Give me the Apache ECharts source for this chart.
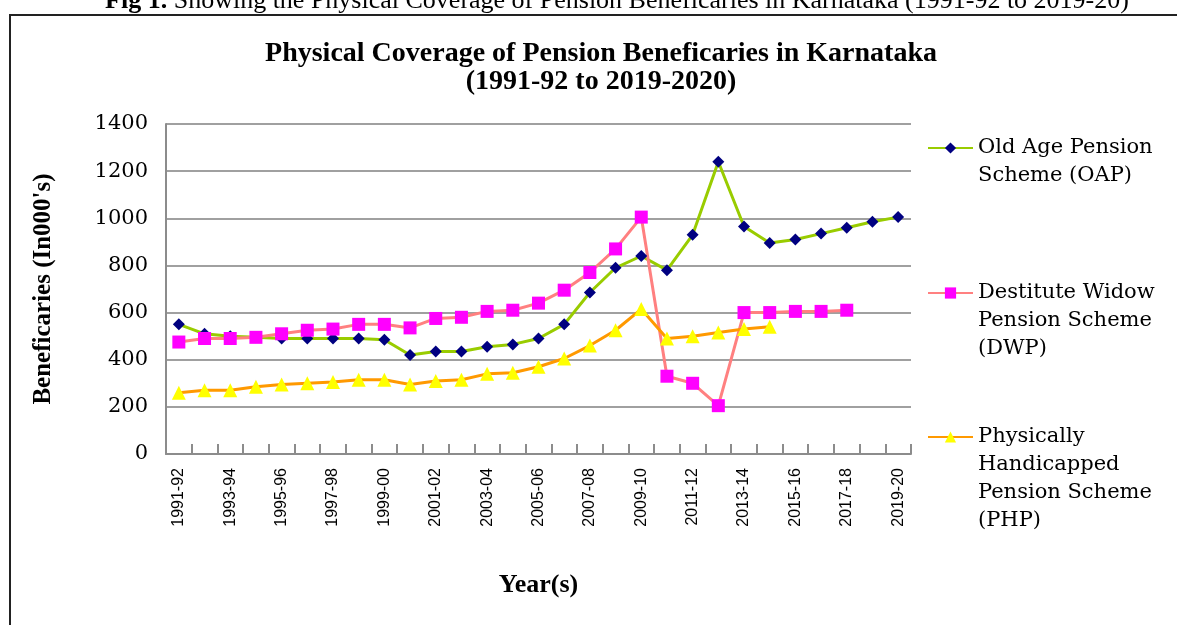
<!DOCTYPE html>
<html>
<head>
<meta charset="utf-8">
<script src="https://cdn.jsdelivr.net/npm/echarts@6/dist/echarts.min.js"></script>
<style>
html,body{margin:0;padding:0;background:#fff;}
#chart{width:1177px;height:625px;}
</style>
</head>
<body>
<div id="chart"></div>
<script>
const years = ['1991-92','1992-93','1993-94','1994-95','1995-96','1996-97','1997-98','1998-99','1999-00','2000-01',
  '2001-02','2002-03','2003-04','2004-05','2005-06','2006-07','2007-08','2008-09','2009-10','2010-11',
  '2011-12','2012-13','2013-14','2014-15','2015-16','2016-17','2017-18','2018-19','2019-20'];
const oap = [550,510,500,495,490,490,490,490,485,420,435,435,455,465,490,550,685,790,840,780,930,1240,965,895,910,935,960,985,1005];
const dwp = [475,490,490,495,510,525,530,550,550,535,575,580,605,610,640,695,770,870,1005,330,300,205,600,600,605,605,610,null,null];
const php = [260,270,270,285,295,300,305,315,315,295,310,315,340,345,370,405,460,525,615,490,500,515,530,540,null,null,null,null,null];
const yTicks = [0,200,400,600,800,1000,1200,1400];
const names = ['Old Age Pension\nScheme (OAP)','Destitute Widow\nPension Scheme\n(DWP)','Physically\nHandicapped\nPension Scheme\n(PHP)'];

const serif = '"Liberation Serif","DejaVu Serif",serif';
const wideSerif = '"DejaVu Serif",serif';
const sans = '"Liberation Sans",Arial,sans-serif';
const LH = 28;

function legendFor(i, top) {
  const lines = names[i].split('\n').length;
  return {
    data: [names[i]],
    orient: 'vertical',
    left: 922,
    top: top,
    itemWidth: 45,
    itemHeight: 14,
    itemGap: 0,
    selectedMode: false,
    formatter: n => '\n'.repeat(lines - 1) + n,
    textStyle: {fontFamily: wideSerif, fontSize: 21, color: '#000', lineHeight: LH}
  };
}

const chart = echarts.init(document.getElementById('chart'));
chart.setOption({
  animation: false,
  backgroundColor: '#fff',
  graphic: [{
    type: 'rect', shape: {x: 10, y: 15, width: 1200, height: 650},
    style: {fill: 'none', stroke: '#222', lineWidth: 2}, silent: true
  }],
  title: [{
    text: '{b|Fig 1.} Showing the Physical Coverage of Pension Beneficaries in Karnataka (1991-92 to 2019-20)',
    left: 612, textAlign: 'center', top: -17,
    textStyle: {fontFamily: serif, fontSize: 26, fontWeight: 'normal', color: '#000',
      rich: {b: {fontFamily: serif, fontSize: 26, fontWeight: 'bold', color: '#000'}}}
  }, {
    text: 'Physical Coverage of Pension Beneficaries in Karnataka\n(1991-92 to 2019-2020)',
    left: 596, textAlign: 'center', top: 35,
    textStyle: {fontFamily: serif, fontSize: 28, fontWeight: 'bold', color: '#000', lineHeight: 28}
  }],
  legend: [legendFor(0, 101), legendFor(1, 218), legendFor(2, 334)],
  grid: {left: 166, right: 266, top: 124, bottom: 171, containLabel: false},
  xAxis: {
    type: 'category',
    data: years,
    boundaryGap: true,
    name: 'Year(s)',
    nameLocation: 'middle',
    nameGap: 118,
    nameTextStyle: {fontFamily: serif, fontSize: 26, fontWeight: 'bold', color: '#000'},
    axisLine: {lineStyle: {color: '#8c8c8c', width: 2}},
    axisTick: {show: true, inside: true, length: 10, interval: 0, lineStyle: {color: '#8c8c8c', width: 2}},
    axisLabel: {interval: 1, rotate: 90, fontFamily: sans, fontSize: 16, color: '#000', margin: 14},
    splitLine: {show: false}
  },
  yAxis: {
    type: 'value',
    min: 0, max: 1400, interval: 200,
    name: 'Beneficaries (In000\'s)',
    nameLocation: 'middle',
    nameGap: 110,
    nameRotate: 90,
    nameTextStyle: {fontFamily: serif, fontSize: 25, fontWeight: 'bold', color: '#000'},
    axisLine: {show: true, lineStyle: {color: '#8c8c8c', width: 2}},
    axisTick: {show: false},
    axisLabel: {fontFamily: wideSerif, fontSize: 21, color: '#000', margin: 18,
      formatter: v => yTicks.indexOf(v) >= 0 ? String(v) : ''},
    splitLine: {lineStyle: {color: '#a0a0a0', width: 2}}
  },
  series: [{
    name: names[0], type: 'line', data: oap,
    symbol: 'diamond', symbolSize: 12,
    lineStyle: {color: '#99CC00', width: 3},
    itemStyle: {color: '#000080'}
  }, {
    name: names[1], type: 'line', data: dwp,
    symbol: 'rect', symbolSize: 13,
    lineStyle: {color: '#FF8080', width: 3},
    itemStyle: {color: '#FF00FF'}
  }, {
    name: names[2], type: 'line', data: php,
    symbol: 'triangle', symbolSize: 14,
    lineStyle: {color: '#FF9900', width: 3},
    itemStyle: {color: '#FFFF00'}
  }]
});
</script>
</body>
</html>
